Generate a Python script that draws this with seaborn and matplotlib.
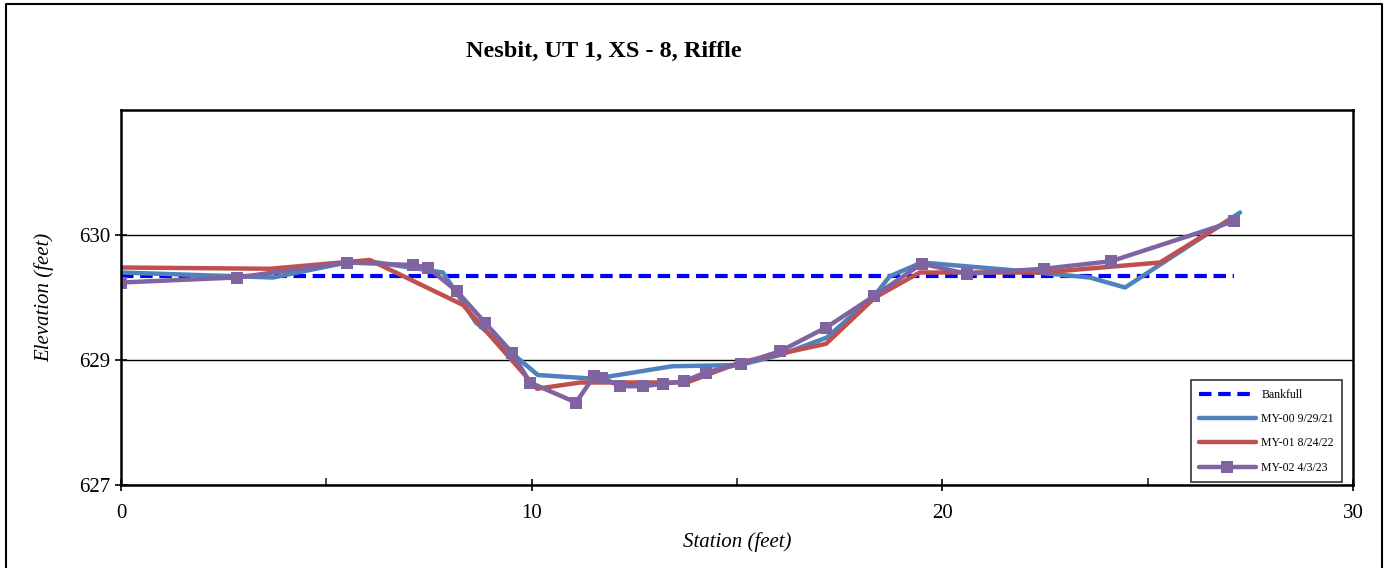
import matplotlib
matplotlib.use('Agg')
import matplotlib.pyplot as plt
import seaborn as sns
import pandas as pd
from matplotlib.lines import Line2D

sns.set_theme(style='white')
plt.rcParams['font.family'] = ['Liberation Serif', 'DejaVu Serif']
plt.rcParams['text.color'] = 'black'
plt.rcParams['axes.labelcolor'] = 'black'

# Station (ft) / elevation (ft)
bankfull_x = [0.0, 27.1]
bankfull_y = [629.67, 629.67]

my00_x = [0.0, 3.70, 5.50, 6.23, 7.84, 8.64, 10.15, 11.54, 13.42, 15.07, 16.05, 17.19,
          18.36, 18.72, 19.50, 21.65, 23.59, 24.45, 27.25]
my00_y = [629.70, 629.66, 629.78, 629.78, 629.70, 629.30, 628.88, 628.85, 628.95, 628.96,
          629.04, 629.18, 629.52, 629.67, 629.78, 629.72, 629.66, 629.58, 630.18]

my01_x = [0.0, 3.63, 6.06, 8.33, 10.13, 11.18, 13.78, 15.07, 17.17, 18.36, 19.45,
          22.45, 25.30, 27.08]
my01_y = [629.74, 629.73, 629.80, 629.44, 628.77, 628.82, 628.82, 628.98, 629.13, 629.50,
          629.70, 629.70, 629.78, 630.14]

my02_x = [0.0, 2.82, 5.50, 7.11, 7.47, 8.18, 8.86, 9.52, 9.96, 11.08, 11.52, 11.71, 12.15,
          12.71, 13.20, 13.71, 14.24, 15.10, 16.05, 17.17, 18.33, 19.50, 20.60, 22.47,
          24.11, 27.10]
my02_y = [629.62, 629.66, 629.78, 629.76, 629.74, 629.55, 629.30, 629.06, 628.82, 628.66,
          628.87, 628.86, 628.79, 628.79, 628.81, 628.83, 628.90, 628.97, 629.07, 629.26,
          629.51, 629.77, 629.69, 629.73, 629.79, 630.11]

y_ticks = [628, 629, 630]
y_tick_labels = ['627', '629', '630']
x_ticks = [0, 10, 20, 30]

c_bank = '#0000FF'
c_00 = '#4F81BD'
c_01 = '#C0504D'
c_02 = '#8064A2'

fig = plt.figure(figsize=(13.88, 5.68), dpi=100)
ax = fig.add_axes([121 / 1388, 1 - 485 / 568, (1353 - 121) / 1388, (485 - 110) / 568])

sns.lineplot(x=bankfull_x, y=bankfull_y, ax=ax, color=c_bank, linestyle=(0, (3, 1.6)),
             linewidth=3, sort=False, label='Bankfull')
sns.lineplot(x=my00_x, y=my00_y, ax=ax, color=c_00, linewidth=3.2, sort=False,
             label='MY-00 9/29/21')
sns.lineplot(x=my01_x, y=my01_y, ax=ax, color=c_01, linewidth=3.2, sort=False,
             label='MY-01 8/24/22')
sns.lineplot(x=my02_x, y=my02_y, ax=ax, color=c_02, linewidth=3.2, sort=False,
             marker='s', markersize=9, markeredgewidth=0, label='MY-02 4/3/23')

ax.set_xlim(0, 30)
ax.set_ylim(628, 631)
ax.set_xticks(x_ticks)
ax.set_xticks([5, 15, 25], minor=True)
ax.set_yticks(y_ticks)
ax.set_yticklabels(y_tick_labels)
ax.tick_params(axis='both', which='major', direction='inout', length=8, width=1.2,
               labelsize=15, colors='black', bottom=True, left=True)
ax.tick_params(axis='x', which='minor', direction='in', length=5, width=1.2, bottom=True)
ax.tick_params(axis='x', pad=10)
ax.grid(axis='y', color='black', linewidth=1)
ax.grid(axis='x', visible=False)
ax.set_axisbelow(True)
for s in ax.spines.values():
    s.set_color('black')
    s.set_linewidth(1.8)

ax.set_xlabel('Station (feet)', fontsize=15, style='italic', labelpad=6)
ax.set_ylabel('Elevation (feet)', fontsize=15, style='italic', labelpad=18)
fig.text(0.435, 0.91, 'Nesbit, UT 1, XS - 8, Riffle', fontsize=17.5, fontweight='bold',
         ha='center', va='center', color='black')

leg = ax.legend(loc='lower right', bbox_to_anchor=(0.996, -0.008), fontsize=8.5,
                frameon=True, fancybox=False, edgecolor='black', labelspacing=1.05,
                handlelength=4.8, handletextpad=0.5, borderpad=0.7)
leg.get_frame().set_linewidth(1.2)
for t in leg.get_texts():
    t.set_color('black')

fig.add_artist(Line2D([6 / 1388, 6 / 1388, 1382 / 1388, 1382 / 1388],
                      [0, 1 - 4 / 568, 1 - 4 / 568, 0], transform=fig.transFigure,
                      color='black', linewidth=1.5))

fig.savefig('out.png', dpi=100)
